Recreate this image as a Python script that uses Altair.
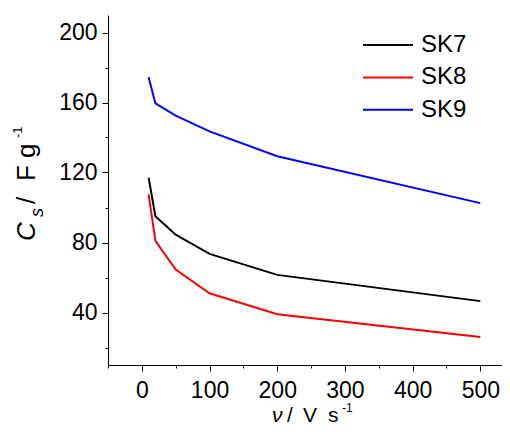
import altair as alt
import pandas as pd

# ---- data ----
v = [10, 20, 50, 100, 200, 500]
sk7 = [117, 95, 84.5, 73.5, 61.5, 46.5]
sk8 = [107.5, 81, 64.5, 51, 39, 26]
sk9 = [174.5, 159.5, 152.5, 143.5, 129.3, 102.5]
series = ["SK7", "SK8", "SK9"]
colors = ["#000000", "#ff0000", "#0000ff"]
x_ticks = [-50, 0, 50, 100, 150, 200, 250, 300, 350, 400, 450, 500]
y_ticks = [20, 40, 60, 80, 100, 120, 140, 160, 180, 200]

rows = []
for name, vals in zip(series, [sk7, sk8, sk9]):
    for xv, yv in zip(v, vals):
        rows.append({"v": xv, "Cs": yv, "series": name})
df = pd.DataFrame(rows)

FONT = "Liberation Sans"
LBL = 23

x_axis = alt.Axis(
    values=x_ticks,
    labelExpr="datum.value % 100 == 0 ? datum.label : ''",
    tickSize={"condition": {"test": "datum.value % 100 == 0", "value": 6}, "value": 3},
    labelPadding=8, labelFont=FONT, labelFontSize=LBL, labelColor="black",
    domainColor="black", tickColor="black", domainWidth=1, tickWidth=1,
    grid=False, title=None, labelFlush=False, labelOverlap=False,
)
y_axis = alt.Axis(
    values=y_ticks,
    labelExpr="datum.value % 40 == 0 ? datum.label : ''",
    tickSize={"condition": {"test": "datum.value % 40 == 0", "value": 6}, "value": 3},
    labelPadding=5, labelFont=FONT, labelFontSize=LBL, labelColor="black",
    domainColor="black", tickColor="black", domainWidth=1, tickWidth=1,
    grid=False, title=None, labelFlush=False, labelOverlap=False,
)

lines = alt.Chart(df).mark_line(strokeWidth=2).encode(
    x=alt.X("v:Q", scale=alt.Scale(domain=[-50, 532], nice=False, zero=False), axis=x_axis),
    y=alt.Y("Cs:Q", scale=alt.Scale(domain=[10, 210], nice=False, zero=False), axis=y_axis),
    color=alt.Color(
        "series:N",
        scale=alt.Scale(domain=series, range=colors),
        legend=alt.Legend(
            orient="none", legendX=254, legendY=18, title=None,
            symbolType="stroke", symbolSize=2500, symbolStrokeWidth=2,
            labelFont=FONT, labelFontSize=24, labelColor="black",
            clipHeight=24, rowPadding=8.4, labelOffset=7, padding=0,
        ),
    ),
    order=alt.Order("v:Q"),
)


def txt(s, x, y, size, style="normal", angle=0):
    kw = dict(text=s, font=FONT, fontSize=size, fontStyle=style, color="black",
              align="left", baseline="alphabetic")
    if angle:
        kw["angle"] = angle
    return alt.Chart(alt.Data(values=[{}])).mark_text(**kw).encode(
        x=alt.value(x), y=alt.value(y))


# y title: C_s / F g^-1 (rotated)
ytitle = [
    txt("C", -73, 226, 26, "italic", 270),
    txt("s", -65, 202, 18, "italic", 270),
    txt("/", -73, 189, 26, "normal", 270),
    txt("F", -73, 166, 26, "normal", 270),
    txt("g", -73, 143, 26, "normal", 270),
    txt("-1", -86, 123, 13, "normal", 270),
]
# x title: nu / V s^-1
xtitle = [
    txt("\u03bd", 164, 407, 21, "italic"),
    txt("/", 179, 407, 21),
    txt("V", 195, 407, 21),
    txt("s", 220, 407, 21),
    txt("-1", 234, 397, 12),
]

chart = alt.layer(lines, *ytitle, *xtitle).properties(
    width=394, height=350,
    autosize=alt.AutoSizeParams(type="none"),
    padding={"left": 100, "top": 7, "right": 0, "bottom": 62},
).configure_view(stroke=None)

chart.save("out.html", embed_options={"renderer": "svg", "actions": False})
